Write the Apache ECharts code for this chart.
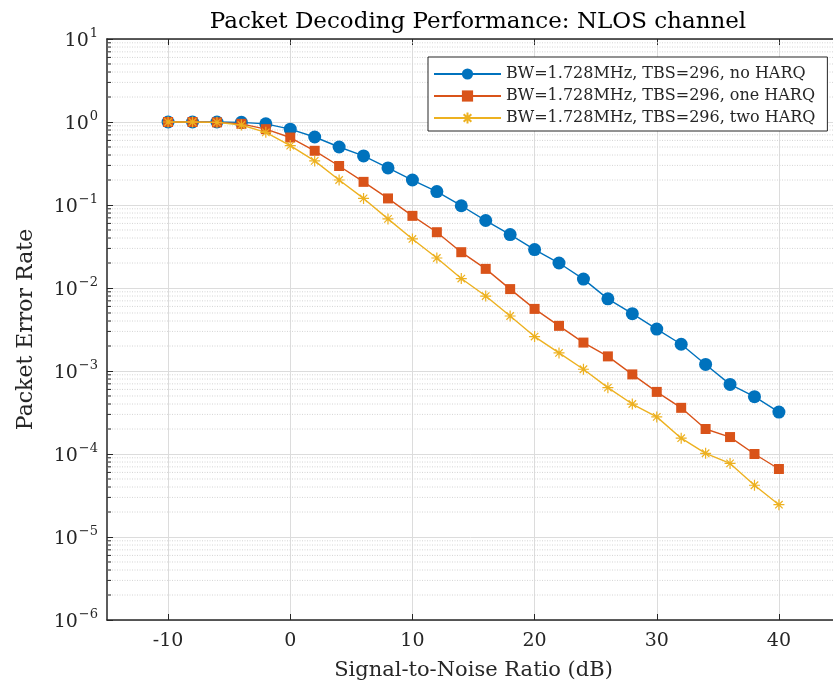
<!DOCTYPE html>
<html>
<head>
<meta charset="utf-8">
<script src="https://cdn.jsdelivr.net/npm/echarts@6/dist/echarts.min.js"></script>
<style>
  html, body { margin: 0; padding: 0; background: #fff; }
  #chart { width: 833px; height: 695px; }
</style>
</head>
<body>
<div id="chart"></div>
<script>
// SNR sweep (dB)
const snr = [-10, -8, -6, -4, -2, 0, 2, 4, 6, 8, 10, 12, 14, 16, 18, 20, 22, 24, 26, 28, 30, 32, 34, 36, 38, 40];

// Packet error rate per SNR point
const perNoHarq = [1.0, 1.0, 1.0, 0.99, 0.95, 0.82, 0.66, 0.50, 0.39, 0.28, 0.20, 0.145, 0.098, 0.065, 0.044, 0.029,
  0.020, 0.0128, 0.0074, 0.0049, 0.0032, 0.0021, 0.0012, 0.00069, 0.00049, 0.00032];
const perOneHarq = [1.0, 1.0, 0.99, 0.95, 0.82, 0.65, 0.45, 0.295, 0.19, 0.12, 0.074, 0.047, 0.027, 0.017, 0.0097, 0.0056,
  0.0035, 0.0022, 0.0015, 0.00091, 0.00056, 0.00036, 0.00020, 0.00016, 0.00010, 0.000066];
const perTwoHarq = [1.0, 1.0, 0.99, 0.92, 0.75, 0.52, 0.34, 0.20, 0.12, 0.068, 0.039, 0.023, 0.013, 0.0080, 0.0046, 0.0026,
  0.00165, 0.00105, 0.00063, 0.00040, 0.00028, 0.000155, 0.000102, 0.000077, 0.000042, 0.0000245];

const seriesNames = [
  'BW=1.728MHz, TBS=296, no HARQ',
  'BW=1.728MHz, TBS=296, one HARQ',
  'BW=1.728MHz, TBS=296, two HARQ'
];

// Axis ranges and tick labels
const xMin = -15, xMax = 45;
const xTicks = [-10, 0, 10, 20, 30, 40];
const yMin = 1e-6, yMax = 10;

const FONT = 'DejaVu Serif';
const INK = '#262626';
const colors = ['#0072BD', '#D95319', '#EDB120'];

// Minor log gridlines at 2..9 x 10^e
const minorY = [];
for (let e = -6; e < 1; e++) {
  for (let m = 2; m <= 9; m++) minorY.push(m * Math.pow(10, e));
}

const pairs = (ys) => snr.map((x, i) => [x, ys[i]]);

const asterisk = 'path://M5,0L5,10M0,5L10,5M1.6,1.6L8.4,8.4M1.6,8.4L8.4,1.6';

const chart = echarts.init(document.getElementById('chart'), null, { renderer: 'canvas' });

chart.setOption({
  animation: false,
  backgroundColor: '#fff',
  title: {
    text: 'Packet Decoding Performance: NLOS channel',
    left: 473, top: 6, textAlign: 'center',
    textStyle: { fontFamily: FONT, fontSize: 23, fontWeight: 'normal', color: '#000' }
  },
  // plot box runs slightly past the right edge of the canvas
  grid: { left: 107, top: 39, width: 733, height: 581, outerBoundsMode: 'none', containLabel: false },
  legend: {
    data: seriesNames,
    orient: 'vertical',
    left: 428, top: 57,
    padding: [9, 12, 5, 5],
    itemGap: 6,
    itemWidth: 67,
    itemHeight: 14,
    backgroundColor: '#fff',
    borderColor: INK,
    borderWidth: 1,
    borderRadius: 0,
    textStyle: { fontFamily: FONT, fontSize: 16, color: INK }
  },
  xAxis: [{
    type: 'value', min: xMin, max: xMax,
    name: 'Signal-to-Noise Ratio (dB)',
    nameLocation: 'middle', nameGap: 40,
    nameTextStyle: { fontFamily: FONT, fontSize: 21, color: INK },
    axisLine: { show: true, onZero: false, lineStyle: { color: INK, width: 1.5 } },
    axisTick: { show: true, inside: true, length: 6, customValues: xTicks, lineStyle: { color: INK, width: 1 } },
    axisLabel: { customValues: xTicks, margin: 12, fontFamily: FONT, fontSize: 19, color: INK },
    splitLine: { show: true, lineStyle: { color: '#dcdcdc', width: 1 } }
  }, {
    type: 'value', min: xMin, max: xMax, position: 'top',
    axisLine: { show: true, onZero: false, lineStyle: { color: INK, width: 1.5 } },
    axisTick: { show: true, inside: true, length: 6, customValues: xTicks, lineStyle: { color: INK, width: 1 } },
    axisLabel: { show: false },
    splitLine: { show: false }
  }],
  yAxis: [{
    type: 'log', logBase: 10, min: yMin, max: yMax,
    name: 'Packet Error Rate',
    nameLocation: 'middle', nameGap: 70,
    nameTextStyle: { fontFamily: FONT, fontSize: 22, color: INK },
    axisLine: { show: true, onZero: false, lineStyle: { color: INK, width: 1.5 } },
    axisTick: { show: true, inside: true, length: 6, lineStyle: { color: INK, width: 1 } },
    axisLabel: {
      margin: 9,
      formatter: (v) => {
        const e = Math.round(Math.log10(v));
        return '{b|10}{s|' + (e < 0 ? '\u2212' + (-e) : String(e)) + '}';
      },
      rich: {
        b: { fontFamily: FONT, fontSize: 19, color: INK, verticalAlign: 'bottom' },
        s: { fontFamily: FONT, fontSize: 13, color: INK, verticalAlign: 'top', padding: [0, 0, 10, 1] }
      }
    },
    splitLine: { show: true, lineStyle: { color: '#dcdcdc', width: 1 } }
  }],
  series: [
    {
      type: 'custom',
      silent: true,
      z: 1,
      data: minorY.map(v => [xMin, v]),
      renderItem: (params, api) => {
        const cs = params.coordSys;
        const y = api.coord([xMin, api.value(1)])[1];
        return {
          type: 'group',
          children: [
            { type: 'line', shape: { x1: cs.x, y1: y, x2: cs.x + cs.width, y2: y },
              style: { stroke: '#d4d4d4', lineWidth: 1, lineDash: [1, 1.5] } },
            { type: 'line', shape: { x1: cs.x, y1: y, x2: cs.x + 4, y2: y },
              style: { stroke: INK, lineWidth: 1 } }
          ]
        };
      }
    },
    {
      name: seriesNames[0], type: 'line', z: 3,
      data: pairs(perNoHarq),
      symbol: 'circle', symbolSize: 13, showAllSymbol: true,
      lineStyle: { color: colors[0], width: 1.4 },
      itemStyle: { color: colors[0], borderColor: colors[0], borderWidth: 0 }
    },
    {
      name: seriesNames[1], type: 'line', z: 4,
      data: pairs(perOneHarq),
      symbol: 'rect', symbolSize: 10, showAllSymbol: true,
      lineStyle: { color: colors[1], width: 1.4 },
      itemStyle: { color: colors[1], borderColor: colors[1], borderWidth: 0 }
    },
    {
      name: seriesNames[2], type: 'line', z: 5,
      data: pairs(perTwoHarq),
      symbol: asterisk, symbolSize: 11, showAllSymbol: true,
      lineStyle: { color: colors[2], width: 1.4 },
      itemStyle: { color: 'rgba(0,0,0,0)', borderColor: colors[2], borderWidth: 1.2 }
    }
  ]
});
</script>
</body>
</html>
